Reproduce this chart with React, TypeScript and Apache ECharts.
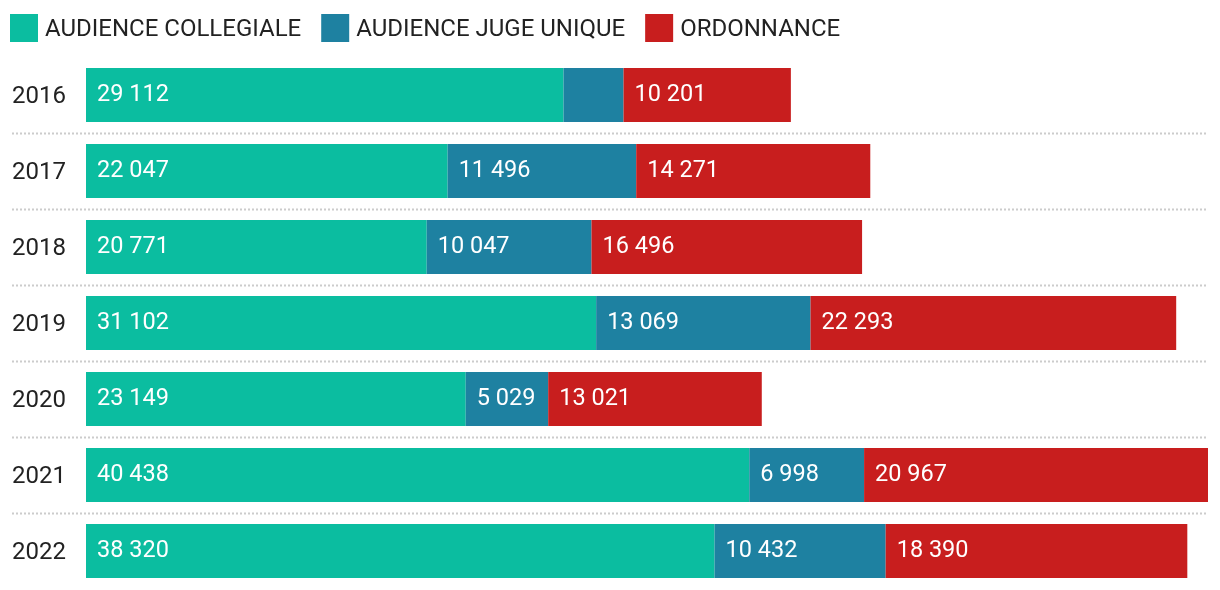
import React, { useEffect, useRef } from "react";
import * as echarts from "echarts";

const years = ["2016", "2017", "2018", "2019", "2020", "2021", "2022"];
const collegiale = [29112, 22047, 20771, 31102, 23149, 40438, 38320];
const jugeUnique = [3660, 11496, 10047, 13069, 5029, 6998, 10432];
const ordonnance = [10201, 14271, 16496, 22293, 13021, 20967, 18390];
const seriesNames = ["AUDIENCE COLLEGIALE", "AUDIENCE JUGE UNIQUE", "ORDONNANCE"];
const colors = ["#0BBDA0", "#1E81A1", "#C81E1E"];
const hiddenLabelBelow = 4000;

const fmt = (v: number) => String(v).replace(/\B(?=(\d{3})+(?!\d))/g, " ");

export default function App() {
  const ref = useRef<HTMLDivElement>(null);
  useEffect(() => {
    if (!ref.current) return;
    const chart = echarts.init(ref.current, null, { renderer: "svg" });
    const totals = years.map((_, i) => collegiale[i] + jugeUnique[i] + ordonnance[i]);
    const maxTotal = Math.max(...totals);
    const font = "Roboto";
    const mk = (name: string, data: number[], color: string) => ({
      name,
      type: "bar",
      stack: "total",
      barWidth: 54,
      itemStyle: { color },
      emphasis: { disabled: true },
      data: data.map((v) => ({
        value: v,
        label: { show: v >= hiddenLabelBelow },
      })),
      label: {
        show: true,
        position: "insideLeft",
        distance: 11,
        color: "#ffffff",
        fontFamily: font,
        fontSize: 23.5,
        offset: [0, -2],
        formatter: (p: any) => fmt(p.value),
      },
    });
    chart.setOption({
      animation: false,
      legend: {
        top: 9,
        left: 5,
        itemWidth: 28,
        itemHeight: 28,
        itemGap: 20,
        icon: "rect",
        textStyle: { fontFamily: font, fontSize: 24, color: "#222222", padding: [0, 0, 0, 2] },
        data: seriesNames,
      },
      grid: { left: 86, right: 12, top: 57, height: 532 },
      xAxis: { type: "value", show: false, min: 0, max: maxTotal },
      yAxis: {
        type: "category",
        inverse: true,
        data: years,
        axisLine: { show: false },
        axisTick: { show: false },
        splitLine: { show: false },
        axisLabel: {
          align: "left",
          margin: 74,
          fontFamily: font,
          fontSize: 24,
          color: "#222222",
        },
      },
      series: [
        mk(seriesNames[0], collegiale, colors[0]),
        mk(seriesNames[1], jugeUnique, colors[1]),
        mk(seriesNames[2], ordonnance, colors[2]),
      ],
    });
    const lines: any[] = [];
    for (let i = 0; i < years.length - 1; i++) {
      const y1 = chart.convertToPixel({ yAxisIndex: 0 }, years[i]) as number;
      const y2 = chart.convertToPixel({ yAxisIndex: 0 }, years[i + 1]) as number;
      const y = Math.round((y1 + y2) / 2) + 0.5;
      lines.push({
        type: "line",
        shape: { x1: 12, y1: y, x2: 1208, y2: y },
        style: { stroke: "#cccccc", lineWidth: 2, lineDash: [2, 2] },
        silent: true,
      });
    }
    chart.setOption({ graphic: lines });
    return () => chart.dispose();
  }, []);
  return (
    <div
      ref={ref}
      style={{ position: "fixed", left: 0, top: 0, width: 1220, height: 590 }}
    />
  );
}
